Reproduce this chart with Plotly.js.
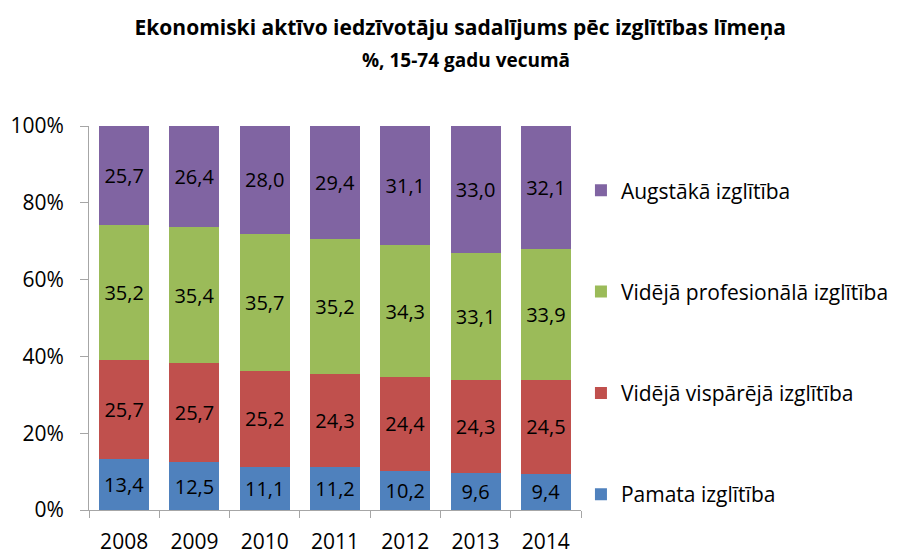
<!DOCTYPE html>
<html>
<head>
<meta charset="utf-8">
<script src="https://cdn.plot.ly/plotly-3.0.1.min.js"></script>
<style>html,body{margin:0;padding:0;background:#fff;}</style>
</head>
<body>
<div id="chart" style="width:906px;height:556px;"></div>
<script>
const years = ['2008','2009','2010','2011','2012','2013','2014'];
const pamata = [13.4, 12.5, 11.1, 11.2, 10.2, 9.6, 9.4];
const vispareja = [25.7, 25.7, 25.2, 24.3, 24.4, 24.3, 24.5];
const profesionala = [35.2, 35.4, 35.7, 35.2, 34.3, 33.1, 33.9];
const augstaka = [25.7, 26.4, 28.0, 29.4, 31.1, 33.0, 32.1];
const seriesNames = ['Pamata izglītība', 'Vidējā vispārējā izglītība', 'Vidējā profesionālā izglītība', 'Augstākā izglītība'];
const seriesData = [pamata, vispareja, profesionala, augstaka];
const colors = ['#4F81BD', '#C0504D', '#9BBB59', '#8064A2'];
const titleText = 'Ekonomiski aktīvo iedzīvotāju sadalījums pēc izglītības līmeņa';
const subtitleText = '%, 15-74 gadu vecumā';

const fontFam = '"Segoe UI", "Open Sans", "Noto Sans", sans-serif';
const fmt = v => v.toFixed(1).replace('.', ',');

const traces = seriesData.map((vals, i) => ({
  type: 'bar',
  name: seriesNames[i],
  x: years,
  y: vals,
  marker: {color: colors[i], line: {width: 0}},
  text: vals.map(fmt),
  textposition: 'inside',
  insidetextanchor: 'middle',
  textangle: 0,
  constraintext: 'none',
  textfont: {family: fontFam, size: 20, color: '#000'},
  hoverinfo: 'x+y+name',
  legendgroup: 'g' + i,
  legendrank: 4 - i
}));

const layout = {
  width: 906, height: 556,
  barmode: 'stack',
  barnorm: 'percent',
  bargap: 0.29,
  margin: {l: 89, r: 322, t: 126, b: 46},
  paper_bgcolor: '#fff', plot_bgcolor: '#fff',
  font: {family: fontFam, size: 20, color: '#000'},
  title: {
    text: '<b>' + titleText + '</b>',
    font: {family: fontFam, size: 21, color: '#000'},
    x: 0.508, xanchor: 'center',
    yref: 'container', y: 1 - 28 / 556, yanchor: 'middle'
  },
  annotations: [{
    text: '<b>' + subtitleText + '</b>',
    font: {family: fontFam, size: 19, color: '#000'},
    xref: 'paper', yref: 'paper',
    x: (468 - 89) / 495, y: 1 + (126 - 60) / 384,
    xanchor: 'center', yanchor: 'middle', showarrow: false
  }],
  xaxis: {
    type: 'category',
    showline: true, linecolor: '#A6A6A6', linewidth: 1,
    ticks: 'outside', tickson: 'boundaries', ticklen: 7, tickcolor: '#A6A6A6',
    tickfont: {family: fontFam, size: 21, color: '#000'},
    ticklabelstandoff: 13,
    showgrid: false, zeroline: false, fixedrange: true
  },
  yaxis: {
    range: [0, 100],
    tickvals: [0, 20, 40, 60, 80, 100],
    ticktext: ['0%', '20%', '40%', '60%', '80%', '100%'],
    showline: true, linecolor: '#A6A6A6', linewidth: 1,
    ticks: 'outside', ticklen: 8, tickcolor: '#A6A6A6',
    tickfont: {family: fontFam, size: 21, color: '#000'},
    ticklabelstandoff: 12,
    showgrid: false, zeroline: false, fixedrange: true
  },
  showlegend: true,
  legend: {
    x: 1.01 - 5 / 495, xanchor: 'left', y: 0.885, yanchor: 'top',
    traceorder: 'grouped',
    tracegroupgap: 71,
    font: {family: fontFam, size: 21, color: '#000'},
    bgcolor: 'rgba(0,0,0,0)',
    itemwidth: 30
  }
};

Plotly.newPlot('chart', traces, layout, {displayModeBar: false, staticPlot: true});
</script>
</body>
</html>
